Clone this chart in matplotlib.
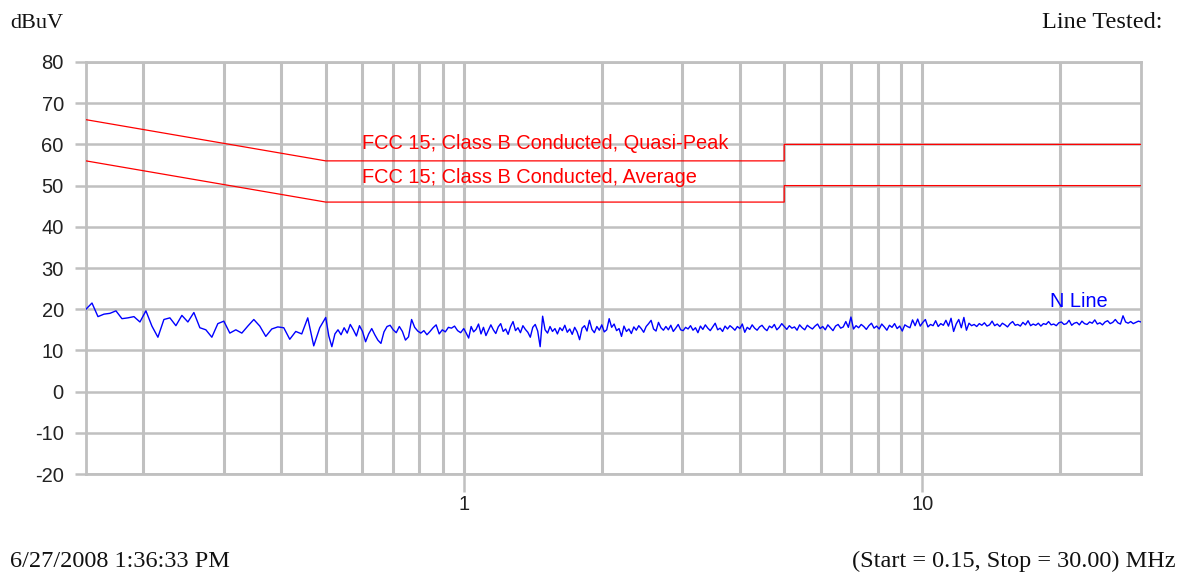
import numpy as np
import matplotlib
matplotlib.use("Agg")
import matplotlib.pyplot as plt
from matplotlib.ticker import FixedLocator, NullFormatter, FixedFormatter

# FCC 15 Class B conducted limits (MHz, dBuV)
limit_freq = [0.15, 0.5, 5.0, 5.0, 30.0]
qp_limit = [66, 56, 56, 60, 60]
avg_limit = [56, 46, 46, 50, 50]

# N line scan
seg_edges = [0.15, 0.5, 1.0, 5.0, 30.0]
n_line_a = [20.0, 21.5, 18.2, 18.8, 19.0, 19.6, 17.7, 17.9, 18.2, 16.9,
            19.6, 15.9, 13.2, 17.5, 17.9, 16.0, 18.5, 16.9, 19.2, 15.5,
            15.0, 13.2, 16.5, 17.1, 14.2, 15.0, 14.2, 15.9, 17.5, 15.9,
            13.4, 15.2, 15.7, 15.5, 12.7, 14.6, 14.0, 17.9, 11.1, 15.5]
n_line_b = [18.0, 13.5, 10.9, 14.0, 15.0, 13.8, 15.5, 14.2, 16.3, 15.0,
            13.5, 16.0, 14.6, 12.1, 14.0, 15.3, 13.8, 12.5, 11.7, 14.5,
            15.8, 16.1, 15.0, 14.3, 15.8, 14.6, 12.5, 13.3, 17.5, 15.6,
            14.7, 14.2, 14.8, 13.8, 14.6, 15.5, 16.2, 14.0, 15.0, 14.5,
            15.6, 15.4, 15.9, 14.8, 14.3]
n_line_c = [15.3, 14.2, 13.0, 15.8, 14.5, 15.1, 16.4, 14.0, 15.6, 13.6,
            14.9, 16.2, 15.0, 14.1, 15.7, 16.5, 14.6, 15.2, 13.9, 15.8,
            17.0, 14.8, 15.5, 14.3, 16.0, 15.1, 14.4, 13.2, 15.6, 16.3,
            14.7, 10.9, 18.3, 15.0, 14.2, 15.8, 14.6, 15.3, 14.0, 15.5,
            14.8, 16.1, 14.4, 15.2, 13.9, 15.6, 14.5, 12.6, 15.4, 16.0,
            14.7, 17.3, 15.1, 14.3, 15.8, 14.9, 16.2, 14.5, 15.0, 17.7,
            15.6, 16.4, 14.8, 15.3, 13.4, 15.9, 14.6, 15.2, 14.1, 15.7,
            14.9, 16.0, 15.3, 14.4, 15.8, 16.5, 17.3, 15.2, 14.7, 16.8,
            15.5, 14.9, 15.8, 15.0, 16.1, 14.6, 15.4, 16.3, 15.0, 14.8,
            15.6, 15.2, 16.0, 14.9, 15.5, 14.3, 15.9, 15.1, 16.2, 15.4,
            14.8, 15.7, 16.6, 15.0, 15.4, 14.6, 15.9, 15.2, 16.0, 15.5,
            14.9, 15.8, 15.3, 16.4, 14.4, 15.6, 15.1, 16.2, 15.4, 14.9,
            15.7, 16.1, 15.3, 14.8, 15.9, 15.5, 16.3, 15.0, 15.6, 16.5]
n_line_d = [15.8, 15.1, 16.0, 15.4, 15.7, 14.9, 16.2, 15.5, 15.0, 16.1,
            15.6, 15.2, 15.9, 16.4, 15.3, 15.8, 15.0, 16.2, 15.5, 14.8,
            15.9, 16.3, 15.4, 15.7, 17.0, 15.6, 18.1, 15.2, 16.0, 15.5,
            16.3, 15.8, 15.1, 16.0, 16.6, 15.4, 15.9, 15.2, 16.4, 15.7,
            14.9, 16.1, 15.6, 16.5, 15.3, 15.9, 14.7, 16.2, 15.8, 15.5,
            17.4, 16.0, 17.6, 15.9, 16.8, 17.5, 15.7, 16.3, 16.0, 17.2,
            15.8, 16.5, 16.1, 17.3, 15.9, 17.8, 14.6, 16.4, 17.5, 15.5,
            18.0, 14.9, 16.6, 16.0, 16.3, 15.8, 16.5, 16.1, 16.7, 15.9,
            16.2, 17.1, 16.0, 16.4, 15.8, 16.6, 16.2, 15.7, 16.5, 17.0,
            16.1, 16.3, 15.9, 16.8, 16.2, 17.2, 16.0, 16.4, 16.1, 16.6,
            15.9, 16.5, 16.3, 17.0, 16.2, 16.4, 16.0, 16.7, 16.9, 16.3,
            16.5, 17.3, 16.1, 16.6, 16.8, 16.2, 17.1, 16.5, 16.3, 16.9,
            16.6, 17.4, 16.4, 16.7, 16.2, 16.9, 17.2, 16.5, 16.8, 17.5,
            16.7, 16.4, 18.4, 16.9, 16.6, 17.0, 16.5, 16.8, 17.1, 16.9]

y_ticks = [80, 70, 60, 50, 40, 30, 20, 10, 0, -10, -20]
x_major = [1, 10]
x_minor = [0.2, 0.3, 0.4, 0.5, 0.6, 0.7, 0.8, 0.9, 2, 3, 4, 5, 6, 7, 8, 9, 20]

# sweep points: evenly spaced on the log axis within each segment
segments = [n_line_a, n_line_b, n_line_c, n_line_d]
freqs = []
for i, seg in enumerate(segments):
    last = i == len(segments) - 1
    freqs.append(np.geomspace(seg_edges[i], seg_edges[i + 1], len(seg), endpoint=last))
n_freq = np.concatenate(freqs)
n_level = np.concatenate(segments)

plt.rcParams["axes.unicode_minus"] = False
sans = ["Liberation Sans", "DejaVu Sans"]
serif = ["Liberation Serif", "DejaVu Serif"]
grid_c = "#c0c0c0"

fig = plt.figure(figsize=(11.91, 5.74), dpi=100)
ax = fig.add_axes([0.0722, 0.1742, 0.8858, 0.7178])
ax.set_xscale("log")
ax.set_xlim(0.15, 30)
ax.set_ylim(-20, 80)

ax.plot(limit_freq, qp_limit, color="#ff0000", lw=0.9, zorder=3)
ax.plot(limit_freq, avg_limit, color="#ff0000", lw=0.9, zorder=3)
ax.plot(n_freq, n_level, color="#0000ff", lw=1.0, zorder=3)

ax.text(0.6, 58.9, "FCC 15; Class B Conducted, Quasi-Peak", color="#ff0000",
        fontsize=14.4, family=sans, ha="left", va="baseline")
ax.text(0.6, 50.6, "FCC 15; Class B Conducted, Average", color="#ff0000",
        fontsize=14.4, family=sans, ha="left", va="baseline")
ax.text(21.9, 20.5, "N Line", color="#0000ff", fontsize=14.4, family=sans,
        ha="center", va="baseline")

ax.xaxis.set_major_locator(FixedLocator(x_major))
ax.xaxis.set_major_formatter(FixedFormatter([str(v) for v in x_major]))
ax.xaxis.set_minor_locator(FixedLocator(x_minor))
ax.xaxis.set_minor_formatter(NullFormatter())
ax.set_yticks(y_ticks)

ax.set_axisbelow(True)
ax.grid(True, which="both", axis="x", color=grid_c, lw=2.2)
ax.grid(True, which="major", axis="y", color=grid_c, lw=1.8)
for s in ax.spines.values():
    s.set_color(grid_c)
    s.set_linewidth(2.0)

ax.tick_params(axis="y", length=8, width=1.8, color=grid_c, pad=8,
               labelsize=14.5, labelcolor="#222222")
ax.tick_params(axis="x", which="major", length=13, width=1.8, color=grid_c,
               pad=2, labelsize=14.5, labelcolor="#222222")
ax.tick_params(axis="x", which="minor", length=0)
for lab in ax.get_xticklabels() + ax.get_yticklabels():
    lab.set_family(sans)

fig.text(10 / 1191, 1 - 28 / 574, "dBuV", family=serif, fontsize=16,
         ha="left", va="baseline", color="#111111")
fig.text(1163 / 1191, 1 - 28 / 574, "Line Tested:", family=serif, fontsize=17.5,
         ha="right", va="baseline", color="#111111")
fig.text(10 / 1191, 1 - 567 / 574, "6/27/2008 1:36:33 PM", family=serif,
         fontsize=17.5, ha="left", va="baseline", color="#111111")
fig.text(1176 / 1191, 1 - 567 / 574, "(Start = 0.15, Stop = 30.00) MHz",
         family=serif, fontsize=17.5, ha="right", va="baseline", color="#111111")

fig.savefig("out.png", dpi=100)
